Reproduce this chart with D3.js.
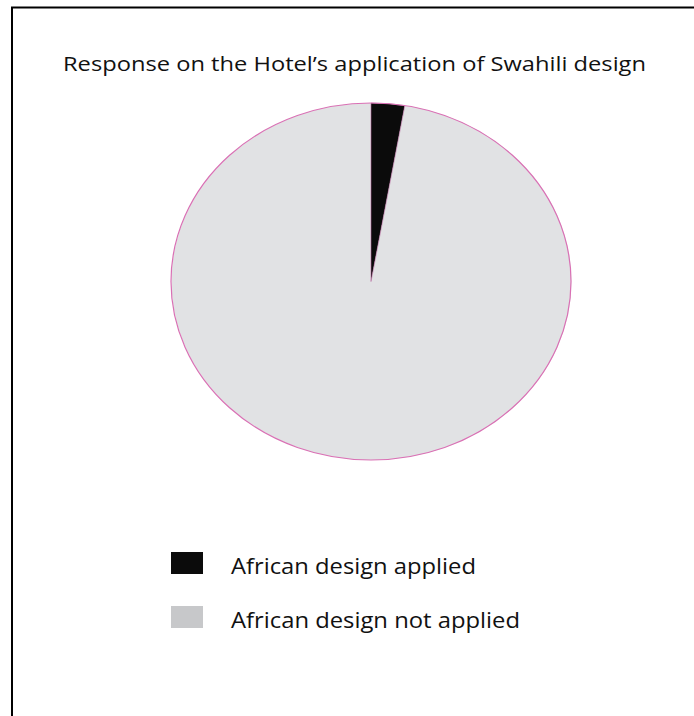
<!DOCTYPE html>
<html>
<head>
<meta charset="utf-8">
<script src="https://cdn.jsdelivr.net/npm/d3@7"></script>
<style>
  html, body { margin: 0; padding: 0; background: #fff; }
  svg { display: block; }
  text { font-family: "Open Sans", "Noto Sans", sans-serif; fill: #111; }
</style>
</head>
<body>
<script>
// Survey responses (percent of respondents)
const categories = ["African design applied", "African design not applied"];
const values = [2.7, 97.3];
const sliceColors = ["#0b0b0b", "#e1e2e4"];
const legendColors = ["#0b0b0b", "#c7c8ca"];
const title = "Response on the Hotel\u2019s application of Swahili design";

const W = 694, H = 716;
const svg = d3.select("body").append("svg").attr("width", W).attr("height", H);

// outer frame (runs past the right and bottom edges)
svg.append("rect")
  .attr("x", 12).attr("y", 7.5)
  .attr("width", 700).attr("height", 720)
  .attr("fill", "none").attr("stroke", "#000").attr("stroke-width", 2);

// title
svg.append("text")
  .attr("x", 354.5).attr("y", 71)
  .attr("text-anchor", "middle")
  .attr("font-size", 20.5)
  .attr("textLength", 583).attr("lengthAdjust", "spacingAndGlyphs")
  .text(title);

// pie, drawn on a unit circle and stretched into an ellipse
const cx = 371, cy = 281.5, rx = 200, ry = 178.5;
const pie = d3.pie().sort(null).value(d => d);
const arc = d3.arc().innerRadius(0).outerRadius(1);
const data = pie(values);

const g = svg.append("g")
  .attr("transform", `translate(${cx},${cy}) scale(${rx},${ry})`);

g.selectAll("path.slice")
  .data(data)
  .join("path")
  .attr("class", "slice")
  .attr("d", arc)
  .attr("fill", (d, i) => sliceColors[i]);

// pink rim around the ellipse
svg.append("ellipse")
  .attr("cx", cx).attr("cy", cy).attr("rx", rx).attr("ry", ry)
  .attr("fill", "none").attr("stroke", "#d970b4").attr("stroke-width", 1.2);

// slice edges
g.selectAll("path.edge")
  .data(data.slice(0, 1))
  .join("path")
  .attr("class", "edge")
  .attr("d", arc)
  .attr("fill", "none")
  .attr("stroke", "#b86aa0")
  .attr("stroke-width", 0.6)
  .attr("vector-effect", "non-scaling-stroke");

// legend
const legendY = d3.scalePoint().domain(categories).range([552, 606]);
const lg = svg.append("g");
lg.selectAll("rect")
  .data(categories)
  .join("rect")
  .attr("x", 171).attr("y", d => legendY(d))
  .attr("width", 32).attr("height", 22)
  .attr("fill", (d, i) => legendColors[i]);

const legendWidths = [245, 289];
lg.selectAll("text")
  .data(categories)
  .join("text")
  .attr("x", 231).attr("y", d => legendY(d) + 22)
  .attr("font-size", 22)
  .attr("textLength", (d, i) => legendWidths[i])
  .attr("lengthAdjust", "spacingAndGlyphs")
  .text(d => d);
</script>
</body>
</html>
